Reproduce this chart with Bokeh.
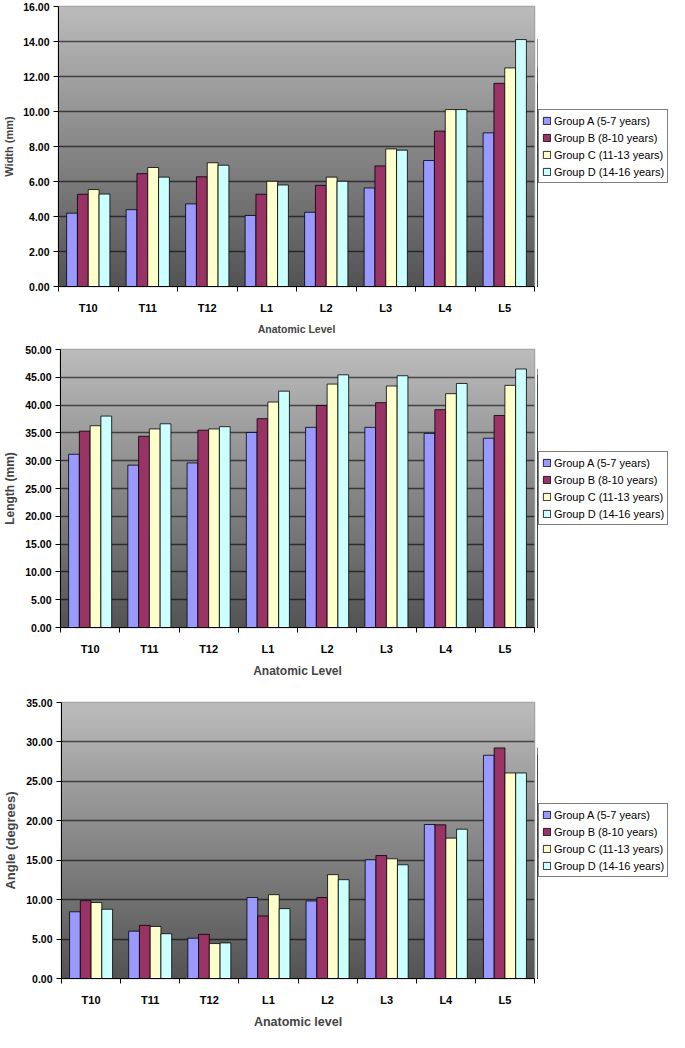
import numpy as np
from bokeh.plotting import figure
from bokeh.models import (ColumnDataSource, FixedTicker, NumeralTickFormatter,
                          Legend, LegendItem, Range1d)
from bokeh.layouts import column, row
from bokeh.transform import dodge
from bokeh.embed import file_html
from bokeh.resources import INLINE

levels = ["T10", "T11", "T12", "L1", "L2", "L3", "L4", "L5"]
groups = ["Group A (5-7 years)", "Group B (8-10 years)",
          "Group C (11-13 years)", "Group D (14-16 years)"]
colors = ["#9999FF", "#993366", "#FFFFCC", "#CCFFFF"]

width_a = [4.19, 4.39, 4.72, 4.06, 4.24, 5.63, 7.20, 8.78]
width_b = [5.27, 6.45, 6.27, 5.27, 5.78, 6.89, 8.88, 11.61]
width_c = [5.54, 6.80, 7.07, 6.01, 6.25, 7.86, 10.11, 12.49]
width_d = [5.28, 6.25, 6.93, 5.80, 6.01, 7.79, 10.11, 14.11]

length_a = [31.16, 29.20, 29.60, 35.08, 36.00, 36.00, 34.91, 34.04]
length_b = [35.31, 34.39, 35.48, 37.56, 39.92, 40.44, 39.17, 38.13]
length_c = [36.29, 35.71, 35.71, 40.55, 43.78, 43.43, 42.05, 43.55]
length_d = [38.02, 36.64, 36.12, 42.51, 45.45, 45.28, 43.89, 46.49]

angle_a = [8.46, 6.00, 5.11, 10.27, 9.83, 15.06, 19.53, 28.31]
angle_b = [9.87, 6.73, 5.60, 7.93, 10.27, 15.59, 19.49, 29.24]
angle_c = [9.63, 6.60, 4.43, 10.63, 13.17, 15.18, 17.80, 26.06]
angle_d = [8.78, 5.68, 4.51, 8.86, 12.53, 14.42, 18.93, 26.06]

width_ticks = [0, 2, 4, 6, 8, 10, 12, 14, 16]
length_ticks = [0, 5, 10, 15, 20, 25, 30, 35, 40, 45, 50]
angle_ticks = [0, 5, 10, 15, 20, 25, 30, 35]

FONT = "Liberation Sans"
LEFT = 55
FRAME_W = 479
RIGHT_GAP = 3
FRAME_H = 285
TOTAL_W = 669


def gradient(n=256, top=(188, 188, 188), bottom=(84, 84, 84)):
    t = np.linspace(0.0, 1.0, n)[:, None]
    img = np.empty((n, 1), dtype=np.uint32)
    view = img.view(dtype=np.uint8).reshape((n, 1, 4))
    for k in range(3):
        view[:, :, k] = (bottom[k] + (top[k] - bottom[k]) * t).astype(np.uint8)
    view[:, :, 3] = 255
    return img


def make_chart(series, ticks, ylabel, xlabel, top, bottom,
               ylab_size, xlab_size):
    ymax = ticks[-1]
    n = len(levels)
    h = top + FRAME_H + bottom
    p = figure(width=LEFT + FRAME_W + RIGHT_GAP, height=h,
               output_backend="svg", toolbar_location=None,
               x_range=Range1d(-0.5, n - 0.5), y_range=Range1d(0, ymax),
               min_border_top=top, min_border_bottom=bottom,
               min_border_left=LEFT, min_border_right=RIGHT_GAP)
    p.image_rgba(image=[gradient()], x=-0.5, y=0, dw=n, dh=ymax,
                 level="image")

    src = ColumnDataSource(dict(x=list(range(n)), a=series[0], b=series[1],
                                c=series[2], d=series[3]))
    w = 1.0 / 5.5
    for i, (key, col) in enumerate(zip("abcd", colors)):
        p.vbar(x=dodge("x", (i - 1.5) * w), top=key, width=w,
               source=src, fill_color=col, line_color="black",
               line_width=0.8)

    p.xgrid.visible = False
    p.ygrid.ticker = FixedTicker(ticks=ticks)
    p.ygrid.grid_line_color = "black"
    p.ygrid.grid_line_alpha = 0.6
    p.ygrid.grid_line_width = 1.5
    p.outline_line_color = "#a0a0a0"
    p.outline_line_width = 1.5
    p.background_fill_color = "white"
    p.border_fill_color = "white"

    ya = p.yaxis[0]
    ya.ticker = FixedTicker(ticks=ticks)
    ya.formatter = NumeralTickFormatter(format="0.00")
    ya.axis_line_color = "black"
    ya.major_tick_out = 5
    ya.major_tick_in = 0
    ya.minor_tick_out = 0
    ya.minor_tick_in = 0
    ya.major_label_standoff = 4
    ya.major_label_text_font = FONT
    ya.major_label_text_font_style = "bold"
    ya.major_label_text_font_size = "10.5px"
    ya.major_label_text_color = "black"
    ya.axis_label = ylabel
    ya.axis_label_text_font = FONT
    ya.axis_label_text_font_style = "bold"
    ya.axis_label_text_font_size = ylab_size
    ya.axis_label_standoff = 5

    xa = p.xaxis[0]
    xa.ticker = FixedTicker(ticks=list(range(n)),
                            minor_ticks=[i - 0.5 for i in range(n + 1)])
    xa.major_label_overrides = {i: lv for i, lv in enumerate(levels)}
    xa.axis_line_color = "black"
    xa.major_tick_out = 0
    xa.major_tick_in = 0
    xa.minor_tick_out = 5
    xa.minor_tick_in = 0
    xa.minor_tick_line_color = "black"
    xa.major_label_standoff = 10
    xa.major_label_text_font = FONT
    xa.major_label_text_font_style = "bold"
    xa.major_label_text_font_size = "11px"
    xa.major_label_text_color = "black"
    xa.axis_label = xlabel
    xa.axis_label_text_font = FONT
    xa.axis_label_text_font_style = "bold"
    xa.axis_label_text_font_size = xlab_size
    xa.axis_label_standoff = 6

    # legend lives in a narrow companion figure to the right of the chart;
    # its bar renderers share the data but lie far outside its (empty) view
    lw = TOTAL_W - (LEFT + FRAME_W + RIGHT_GAP)
    lf = figure(width=lw, height=h, output_backend="svg",
                toolbar_location=None, x_range=Range1d(1000, 1001),
                y_range=Range1d(0, ymax), min_border_top=top,
                min_border_bottom=bottom, min_border_left=0,
                min_border_right=0)
    lf.axis.visible = False
    lf.grid.visible = False
    lf.outline_line_color = None
    lf.background_fill_color = "white"
    lf.border_fill_color = "white"
    items = []
    for i, (key, col, name) in enumerate(zip("abcd", colors, groups)):
        r = lf.vbar(x=dodge("x", (i - 1.5) * w), top=key, width=w,
                    source=src, fill_color=col, line_color="black",
                    line_width=0.8)
        items.append(LegendItem(label=name, renderers=[r]))
    legend = Legend(items=items, location="left",
                    border_line_color="black",
                    border_line_width=1, background_fill_color="white",
                    label_text_font=FONT, label_text_font_size="11px",
                    label_text_color="black",
                    glyph_width=9, glyph_height=9, label_standoff=3,
                    label_height=15, spacing=2, padding=3, margin=1)
    lf.add_layout(legend)
    return row(p, lf, spacing=0)


c1 = make_chart([width_a, width_b, width_c, width_d], width_ticks,
                "Width (mm)", "Anatomic Level", 6, 46, "11px", "10.5px")
c2 = make_chart([length_a, length_b, length_c, length_d], length_ticks,
                "Length (mm)", "Anatomic Level", 12, 46, "12px", "12px")
c3 = make_chart([angle_a, angle_b, angle_c, angle_d], angle_ticks,
                "Angle (degrees)", "Anatomic level", 22, 44, "13px", "12.5px")

layout = column(c1, c2, c3, spacing=0)
open("out.html", "w").write(file_html(layout, INLINE))
